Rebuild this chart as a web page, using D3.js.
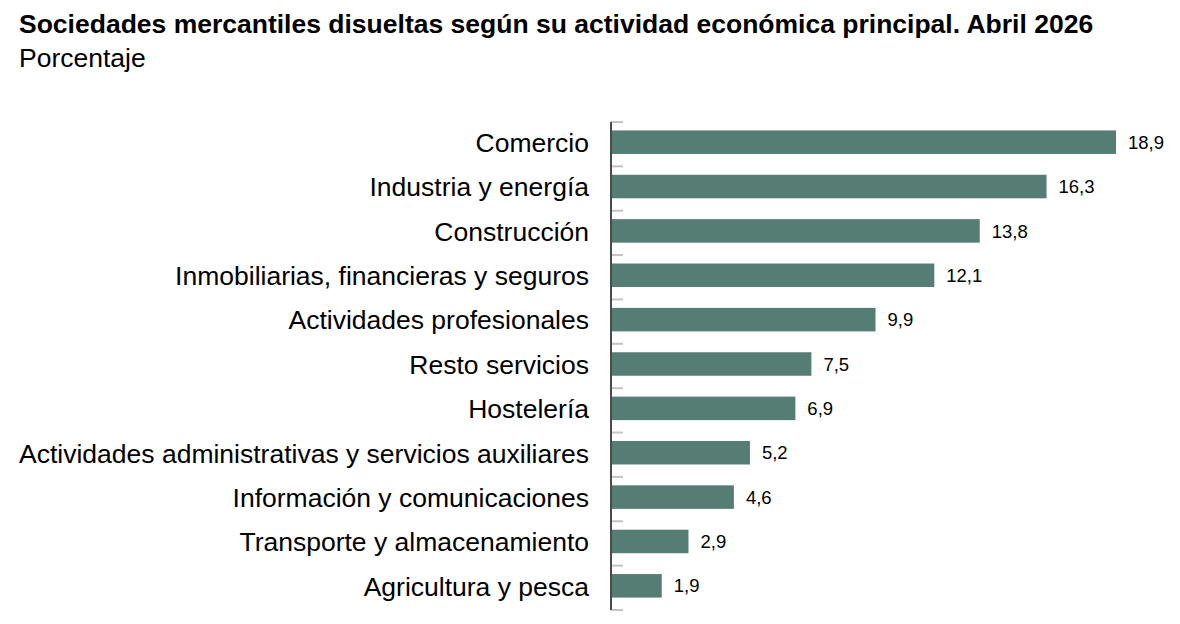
<!DOCTYPE html>
<html><head><meta charset="utf-8">
<script src="https://cdn.jsdelivr.net/npm/d3@7"></script>
<style>body{margin:0;background:#fff;}svg{display:block;font-family:"Liberation Sans",Arial,sans-serif;}</style>
</head><body>
<svg id="c" width="1180" height="624"></svg>
<script>
const categories = ["Comercio","Industria y energía","Construcción","Inmobiliarias, financieras y seguros","Actividades profesionales","Resto servicios","Hostelería","Actividades administrativas y servicios auxiliares","Información y comunicaciones","Transporte y almacenamiento","Agricultura y pesca"];
const values = [18.9,16.3,13.8,12.1,9.9,7.5,6.9,5.2,4.6,2.9,1.9];
const title = "Sociedades mercantiles disueltas según su actividad económica principal. Abril 2026";
const subtitle = "Porcentaje";

const svg = d3.select("#c");
const x0 = 611, y0 = 122, y1 = 610;
const x = d3.scaleLinear().domain([0, 18.9]).range([x0, 1116]);
const y = d3.scaleBand().domain(categories).range([y0, y1]).paddingInner(0.47).paddingOuter(0.235);

svg.append("text").attr("x",19).attr("y",33).attr("font-size",26.5).attr("font-weight","bold").attr("fill","#000").text(title);
svg.append("text").attr("x",19).attr("y",67).attr("font-size",26.5).attr("fill","#000").text(subtitle);

// ticks (band boundaries)
const step = (y1 - y0) / categories.length;
const tickPos = d3.range(categories.length + 1).map(i => y0 + i * step);
svg.append("g").selectAll("line").data(tickPos).join("line")
  .attr("x1", x0).attr("x2", x0 + 12).attr("y1", d => d).attr("y2", d => d)
  .attr("stroke", "#c4c4c4").attr("stroke-width", 2);

svg.append("g").selectAll("rect").data(values).join("rect")
  .attr("x", x0).attr("y", (d,i) => y(categories[i]) - 2)
  .attr("width", d => x(d) - x0).attr("height", y.bandwidth())
  .attr("fill", "#567d74");

svg.append("line").attr("x1", x0).attr("x2", x0).attr("y1", y0).attr("y2", y1)
  .attr("stroke", "#4a4a4a").attr("stroke-width", 2);

svg.append("g").selectAll("text").data(categories).join("text")
  .attr("x", 589).attr("y", d => y(d) - 2 + y.bandwidth()/2).attr("dy","0.37em")
  .attr("text-anchor","end").attr("font-size",26.5).attr("fill","#000").text(d => d);

svg.append("g").selectAll("text").data(values).join("text")
  .attr("x", d => x(d) + 12).attr("y", (d,i) => y(categories[i]) - 2 + y.bandwidth()/2).attr("dy","0.36em")
  .attr("font-size",18.5).attr("fill","#000").text(d => d3.format(".1f")(d).replace(".", ","));
</script>
</body></html>
